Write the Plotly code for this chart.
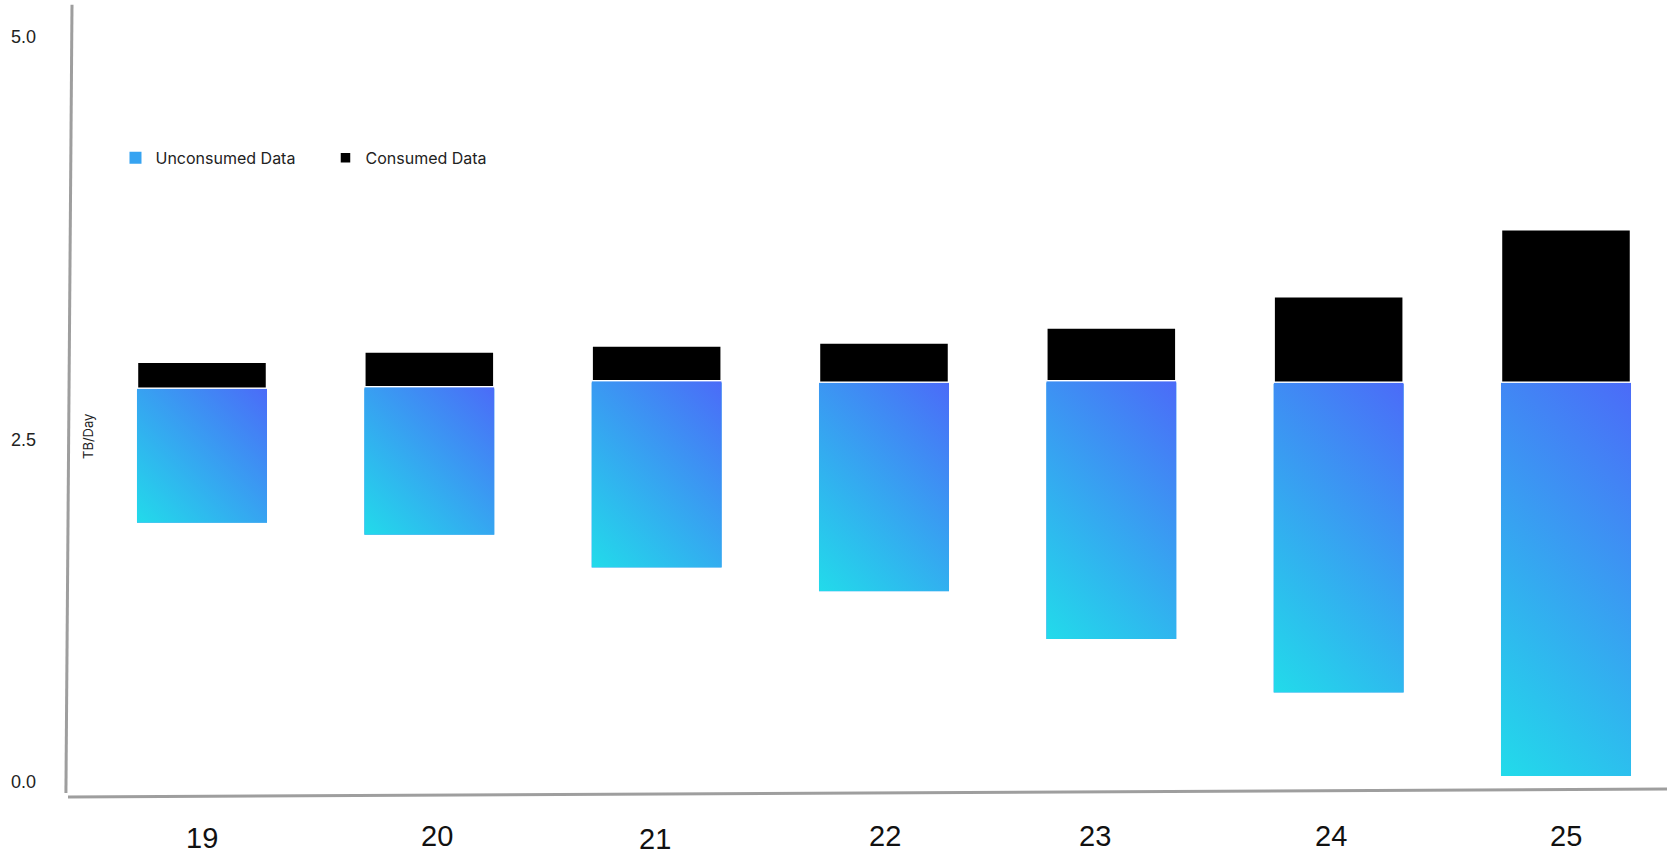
import base64
import plotly.graph_objects as go

# ---------------- data ----------------
years = [19, 20, 21, 22, 23, 24, 25]
year_labels = ["19", "20", "21", "22", "23", "24", "25"]
unconsumed_start = [1.74, 1.66, 1.44, 1.28, 0.96, 0.60, 0.04]
unconsumed_end = [2.64, 2.65, 2.69, 2.68, 2.69, 2.68, 2.68]
consumed_end = [2.82, 2.89, 2.93, 2.95, 3.05, 3.26, 3.71]
y_tick_vals = [0.0, 2.5, 5.0]
y_tick_text = ["0.0", "2.5", "5.0"]

# ---------------- style ----------------
BAR_W = 0.572
X_RANGE = [18.4106, 25.4443]
Y_RANGE = [-0.0738, 5.1946]
PX_PER_X = 227.33
PX_PER_Y = 149.0
C0, C1 = "#22dbea", "#4b6bf8"
label_xshift = [0, 8, -2, 1, -16, -8, 0]
label_yshift = [-2, 0, -3, 0, 0, 0, 0]
ytick_yshift = [0, -30, 0]
TICK_FONT = "Liberation Sans, Arial, sans-serif"
UI_FONT = "Inter, Noto Sans, sans-serif"


def gradient_uri(w, h):
    k = (w + h) / 4.0
    x1, y1 = w / 2 - k, h / 2 + k
    x2, y2 = w / 2 + k, h / 2 - k
    svg = (
        f"<svg xmlns='http://www.w3.org/2000/svg' width='{w:.1f}' height='{h:.1f}' "
        f"viewBox='0 0 {w:.2f} {h:.2f}' preserveAspectRatio='none'>"
        f"<defs><linearGradient id='g' gradientUnits='userSpaceOnUse' "
        f"x1='{x1:.2f}' y1='{y1:.2f}' x2='{x2:.2f}' y2='{y2:.2f}'>"
        f"<stop offset='0' stop-color='{C0}'/><stop offset='1' stop-color='{C1}'/>"
        f"</linearGradient></defs>"
        f"<rect x='0' y='0' width='{w:.2f}' height='{h:.2f}' fill='url(#g)'/></svg>"
    )
    return "data:image/svg+xml;base64," + base64.b64encode(svg.encode()).decode()


unc_height = [e - s for s, e in zip(unconsumed_start, unconsumed_end)]
con_height = [c - e for e, c in zip(unconsumed_end, consumed_end)]

fig = go.Figure()
fig.add_trace(go.Bar(
    name="Unconsumed Data", x=years, y=unc_height, base=unconsumed_start,
    width=BAR_W, marker=dict(color="#36a3f1", line=dict(width=0)),
))
fig.add_trace(go.Bar(
    name="Consumed Data", x=years, y=con_height, base=unconsumed_end,
    width=BAR_W, marker=dict(color="#000000", line=dict(color="#ffffff", width=2.5)),
))

images = []
for xv, s, h in zip(years, unconsumed_start, unc_height):
    images.append(dict(
        source=gradient_uri(BAR_W * PX_PER_X, h * PX_PER_Y),
        xref="x", yref="y", x=xv - BAR_W / 2, y=s + h,
        sizex=BAR_W, sizey=h, xanchor="left", yanchor="top",
        sizing="stretch", layer="above",
    ))

annotations = []
for xv, t, dx, dy in zip(years, year_labels, label_xshift, label_yshift):
    annotations.append(dict(
        x=xv, y=-0.0545, xref="x", yref="paper", text=t, showarrow=False,
        xanchor="center", yanchor="middle", xshift=dx, yshift=dy,
        font=dict(family=TICK_FONT, size=29, color="#111111"),
    ))
for v, t, dy in zip(y_tick_vals, y_tick_text, ytick_yshift):
    annotations.append(dict(
        x=-0.0185, y=v, xref="paper", yref="y", text=t, showarrow=False,
        xanchor="right", yanchor="middle", yshift=dy,
        font=dict(family=TICK_FONT, size=18, color="#222222"),
    ))
annotations.append(dict(
    x=0.0125, y=0.4548, xref="paper", yref="paper", text="TB/Day", showarrow=False,
    textangle=-90, xanchor="center", yanchor="middle",
    font=dict(family=UI_FONT, size=13, color="#222222"),
))

shapes = [
    dict(type="line", xref="paper", yref="paper", x0=0.0025, y0=1.004, x1=-0.0013, y1=0.0,
         line=dict(color="#9e9e9e", width=3)),
    dict(type="line", xref="paper", yref="paper", x0=0.0, y0=-0.0051, x1=1.0, y1=0.0051,
         line=dict(color="#9e9e9e", width=3)),
]

fig.update_layout(
    width=1667, height=857,
    margin=dict(l=68, r=0, t=8, b=64, pad=0),
    paper_bgcolor="#ffffff", plot_bgcolor="#ffffff",
    barmode="overlay",
    xaxis=dict(range=X_RANGE, showgrid=False, zeroline=False, showline=False,
               showticklabels=False, ticks=""),
    yaxis=dict(range=Y_RANGE, showgrid=False, zeroline=False, showline=False,
               showticklabels=False, ticks=""),
    showlegend=True,
    legend=dict(orientation="h", x=0.0297, y=0.809, xanchor="left", yanchor="middle",
                font=dict(family=UI_FONT, size=16, color="#222222"),
                bgcolor="rgba(0,0,0,0)", entrywidth=165, entrywidthmode="pixels",
                traceorder="normal"),
    images=images, annotations=annotations, shapes=shapes,
)

fig.write_html("out.html", config={"displayModeBar": False},
               post_script="document.body.style.margin='0';")
